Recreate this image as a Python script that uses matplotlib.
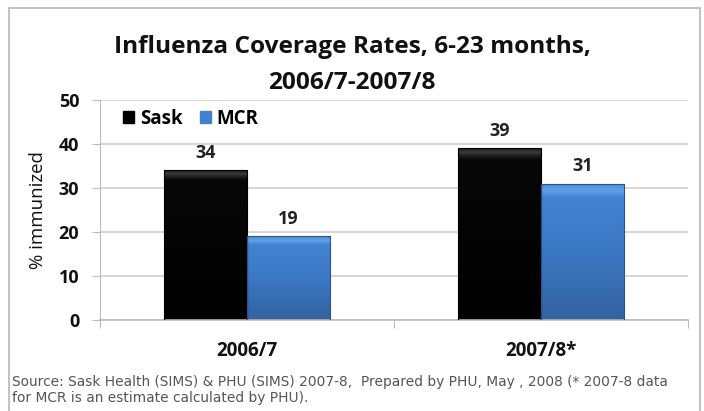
import numpy as np
import matplotlib.pyplot as plt
from matplotlib.colors import LinearSegmentedColormap
from matplotlib.patches import Rectangle

plt.rcParams['font.family'] = ['Open Sans', 'DejaVu Sans']

seasons = ['2006/7', '2007/8*']
sask = [34, 39]
mcr = [19, 31]
yticks = [0, 10, 20, 30, 40, 50]

W, H = 704, 411
fig = plt.figure(figsize=(W / 100, H / 100), dpi=100)
fig.patch.set_facecolor('white')

# outer chart border
fig.add_artist(Rectangle((9 / W, -0.05), 691 / W, 1.05 - 8 / H, transform=fig.transFigure,
                         fill=False, edgecolor='#b8b8b8', linewidth=1.2))

ax = fig.add_axes([100 / W, 1 - 320 / H, 588 / W, 220 / H])
ax.set_xlim(0, 2)
ax.set_ylim(0, 50)

bw = 0.283
x = np.arange(len(seasons)) + 0.5

black_cm = LinearSegmentedColormap.from_list(
    'blk', [(0, '#000000'), (0.94, '#080808'), (0.98, '#3a3a3a'), (1, '#202020')])
blue_cm = LinearSegmentedColormap.from_list(
    'blu', [(0, '#33629f'), (0.5, '#3c78c4'), (0.9, '#4383d2'), (0.95, '#65a2e8'), (1, '#4a8ad8')])
grad = np.linspace(0, 1, 200).reshape(-1, 1)

def gradient_bar(x0, h, cmap, edge):
    r = Rectangle((x0, 0), bw, h, facecolor='none', edgecolor=edge, linewidth=0.8, zorder=3)
    ax.add_patch(r)
    im = ax.imshow(grad, extent=(x0, x0 + bw, 0, h), origin='lower', cmap=cmap,
                   aspect='auto', zorder=2, interpolation='bilinear')
    im.set_clip_path(r)

for xi, s, m in zip(x, sask, mcr):
    gradient_bar(xi - bw, s, black_cm, '#000000')
    gradient_bar(xi, m, blue_cm, '#2b5389')
    ax.text(xi - bw / 2, s + 2.0, str(s), ha='center', va='bottom', fontsize=13,
            fontweight='bold', color='#222222')
    ax.text(xi + bw / 2, m + 2.0, str(m), ha='center', va='bottom', fontsize=13,
            fontweight='bold', color='#222222')

ax.set_aspect('auto')
ax.set_yticks(yticks)
ax.set_yticklabels([str(v) for v in yticks], fontsize=13, fontweight='bold', color='#111111')
ax.yaxis.grid(True, color='#d0d0d0', linewidth=1.2)
ax.set_axisbelow(True)
ax.set_xticks([0, 1, 2])
ax.set_xticklabels([])
ax.set_xticks(x, minor=True)
ax.set_xticklabels(seasons, minor=True, fontsize=13.5, fontweight='bold', color='#111111')
ax.tick_params(axis='x', which='minor', length=0, pad=15)
ax.tick_params(axis='x', which='major', length=6, color='#bbbbbb')
ax.tick_params(axis='y', length=6, color='#bbbbbb', pad=9)
for side in ['top', 'right']:
    ax.spines[side].set_visible(False)
ax.spines['left'].set_color('#bbbbbb')
ax.spines['bottom'].set_color('#bbbbbb')
ax.spines['bottom'].set_linewidth(1.2)
ax.set_ylabel('% immunized', fontsize=13.4, color='#111111', labelpad=8)

# legend
handles = [Rectangle((0, 0), 1, 1, color='#000000'), Rectangle((0, 0), 1, 1, color='#3f80cf')]
ax.legend(handles, ['Sask', 'MCR'], loc='upper left', ncol=2, frameon=False,
          prop={'weight': 'bold', 'size': 13.5}, handlelength=0.6, handleheight=0.6,
          handletextpad=0.3, columnspacing=0.9, borderaxespad=0.2,
          bbox_to_anchor=(0.02, 1.01))

fig.text(352 / W, 1 - 47 / H, 'Influenza Coverage Rates, 6-23 months,', ha='center',
         va='center', fontsize=17.6, fontweight='bold', color='#111111')
fig.text(352 / W, 1 - 83 / H, '2006/7-2007/8', ha='center', va='center', fontsize=17.6,
         fontweight='bold', color='#111111')

fig.text(12 / W, 1 - 382 / H,
         'Source: Sask Health (SIMS) & PHU (SIMS) 2007-8,  Prepared by PHU, May , 2008 (* 2007-8 data',
         ha='left', va='center', fontsize=9.9, family='DejaVu Sans', color='#555555')
fig.text(12 / W, 1 - 398 / H, 'for MCR is an estimate calculated by PHU).',
         ha='left', va='center', fontsize=9.9, family='DejaVu Sans', color='#555555')

fig.savefig('out.png', dpi=100)
